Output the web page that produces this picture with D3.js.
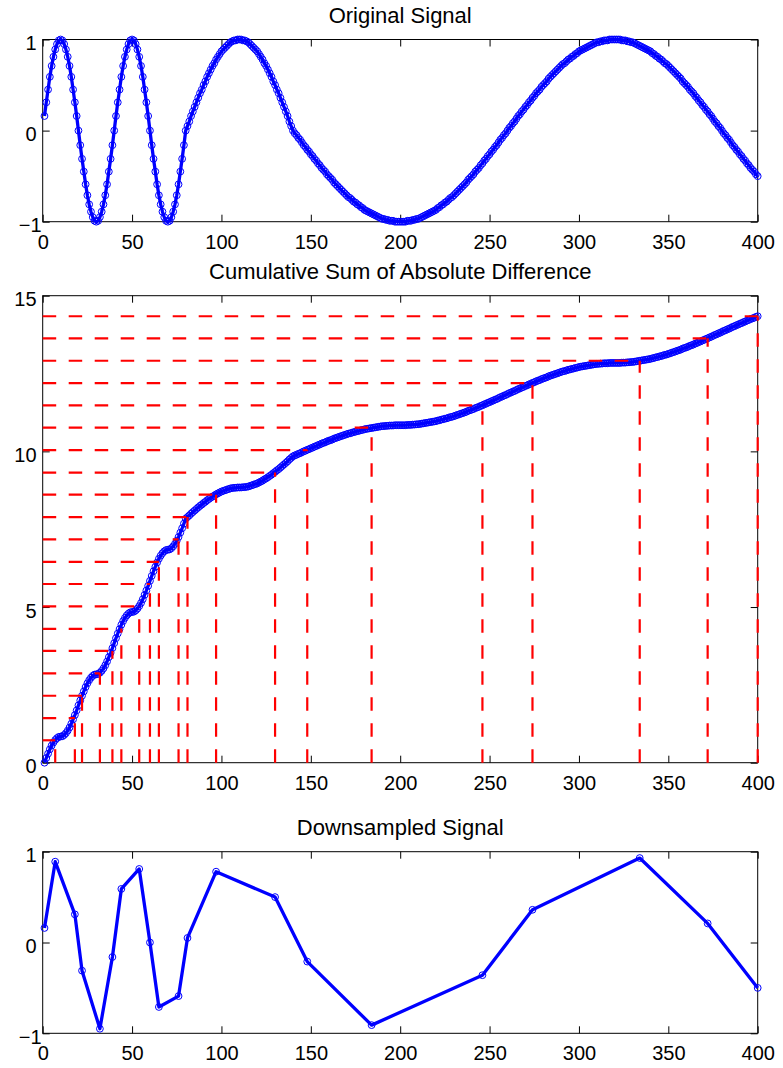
<!DOCTYPE html>
<html lang="en">
<head>
    <meta charset="utf-8">
    <script src="https://d3js.org/d3.v7.min.js"></script>
    <style>
        body { margin: 0; background: #fff; }
    </style>
</head>
<body>
<div id="chart"></div>
<script>
    // original signal, one value per sample (x = 1..400)
    const signal = [
        .16,.31,.45,.59,.71,.81,.89,.95,.99,1,.99,.95,.89,.81,.71,.59,.45,.31,.16,0,
        -.16,-.31,-.45,-.59,-.71,-.81,-.89,-.95,-.99,-1,-.99,-.95,-.89,-.81,-.71,-.59,-.45,-.31,-.16,0,
        .16,.31,.45,.59,.71,.81,.89,.95,.99,1,.99,.95,.89,.81,.71,.59,.45,.31,.16,0,
        -.16,-.31,-.45,-.59,-.71,-.81,-.89,-.95,-.99,-1,-.99,-.95,-.89,-.81,-.71,-.59,-.45,-.31,-.16,0,
        .05,.10,.16,.21,.26,.31,.36,.41,.45,.50,.54,.59,.63,.67,.71,.74,.78,.81,.84,.87,
        .89,.91,.93,.95,.97,.98,.99,.99,1,1,1,.99,.99,.98,.97,.95,.93,.91,.89,.87,
        .84,.81,.78,.74,.71,.67,.63,.59,.54,.50,.45,.41,.36,.31,.26,.21,.16,.10,.05,0,
        -.03,-.05,-.08,-.10,-.13,-.16,-.18,-.21,-.23,-.26,-.28,-.31,-.33,-.36,-.38,-.41,-.43,-.45,-.48,-.50,
        -.52,-.54,-.57,-.59,-.61,-.63,-.65,-.67,-.69,-.71,-.73,-.74,-.76,-.78,-.79,-.81,-.82,-.84,-.85,-.87,
        -.88,-.89,-.90,-.91,-.92,-.93,-.94,-.95,-.96,-.97,-.97,-.98,-.98,-.99,-.99,-.99,-1,-1,-1,-1,
        -1,-1,-1,-.99,-.99,-.99,-.98,-.98,-.97,-.97,-.96,-.95,-.94,-.93,-.92,-.91,-.90,-.89,-.88,-.87,
        -.85,-.84,-.82,-.81,-.79,-.78,-.76,-.74,-.73,-.71,-.69,-.67,-.65,-.63,-.61,-.59,-.57,-.54,-.52,-.50,
        -.48,-.45,-.43,-.41,-.38,-.36,-.33,-.31,-.28,-.26,-.23,-.21,-.18,-.16,-.13,-.10,-.08,-.05,-.03,0,
        .03,.05,.08,.10,.13,.16,.18,.21,.23,.26,.28,.31,.33,.36,.38,.41,.43,.45,.48,.50,
        .52,.54,.57,.59,.61,.63,.65,.67,.69,.71,.73,.74,.76,.78,.79,.81,.82,.84,.85,.87,
        .88,.89,.90,.91,.92,.93,.94,.95,.96,.97,.97,.98,.98,.99,.99,.99,1,1,1,1,
        1,1,1,.99,.99,.99,.98,.98,.97,.97,.96,.95,.94,.93,.92,.91,.90,.89,.88,.87,
        .85,.84,.82,.81,.79,.78,.76,.74,.73,.71,.69,.67,.65,.63,.61,.59,.57,.54,.52,.50,
        .48,.45,.43,.41,.38,.36,.33,.31,.28,.26,.23,.21,.18,.16,.13,.10,.08,.05,.03,0,
        -.03,-.05,-.08,-.10,-.13,-.16,-.18,-.21,-.23,-.26,-.28,-.31,-.33,-.36,-.38,-.41,-.43,-.45,-.48,-.50
    ]

    // threshold levels (red dashed lines) and the samples where the sum crosses them
    const levels = [0.72,1.43,2.15,2.87,3.59,4.30,5.02,5.74,6.45,7.17,7.89,8.61,9.32,10.04,10.76,11.48,12.19,12.91,13.63,14.34]
    const crossX = [7,18,22,32,39,44,54,60,65,76,81,97,130,148,184,246,274,334,372,400]

    // downsampled signal
    const downX = [1,7,18,22,32,39,44,54,60,65,76,81,97,130,148,184,246,274,334,372,400]
    const downY = [.16,.89,.31,-.31,-.95,-.16,.59,.81,0,-.71,-.59,.05,.78,.50,-.21,-.91,-.36,.36,.93,.21,-.50]

    const xTicks = [0,50,100,150,200,250,300,350,400]
    const yTicksSignal = [-1,0,1]
    const yTicksSum = [0,5,10,15]

    const width = 783
    const height = 1068
    const left = 42.7
    const right = 757.7
    const blue = "#0000ff"
    const red = "#ff0000"
    const font = "'Liberation Sans', Arial, Helvetica, sans-serif"

    const svg = d3.select("#chart").append("svg")
        .attr("width", width)
        .attr("height", height)

    const xIdx = d3.range(1, signal.length + 1)
    const cumAbs = Array.from(d3.cumsum(signal, (d, i) => i ? Math.abs(d - signal[i - 1]) : 0))

    function panel(top, bottom, yDomain, yTicks, title) {
        const x = d3.scaleLinear().domain([0, 400]).range([left, right])
        const y = d3.scaleLinear().domain(yDomain).range([bottom, top])
        const g = svg.append("g")
        const fmt = d3.format("d")

        const bx = g.append("g")
            .attr("transform", "translate(0," + bottom + ")")
            .call(d3.axisBottom(x).tickValues(xTicks).tickSizeInner(-7).tickSizeOuter(0).tickPadding(12.8).tickFormat(fmt))
        const tx = g.append("g")
            .attr("transform", "translate(0," + top + ")")
            .call(d3.axisTop(x).tickValues(xTicks).tickSizeInner(-7).tickSizeOuter(0).tickFormat(""))
        const ly = g.append("g")
            .attr("transform", "translate(" + left + ",0)")
            .call(d3.axisLeft(y).tickValues(yTicks).tickSizeInner(-7).tickSizeOuter(0).tickPadding(6.2).tickFormat(fmt))
        const ry = g.append("g")
            .attr("transform", "translate(" + right + ",0)")
            .call(d3.axisRight(y).tickValues(yTicks).tickSizeInner(-7).tickSizeOuter(0).tickFormat(""))

        for (const a of [bx, tx, ly, ry]) {
            a.select(".domain").remove()
            a.attr("font-size", 20).attr("font-family", font).attr("color", "#000")
            a.selectAll("line").attr("stroke-width", 1)
        }
        ly.selectAll("text").attr("dy", "0.5em").attr("dx", d => d < 0 ? 5 : 0)

        g.append("rect")
            .attr("x", left)
            .attr("y", top)
            .attr("width", right - left)
            .attr("height", bottom - top)
            .attr("fill", "none")
            .attr("stroke", "#000")
            .attr("stroke-width", 1)

        g.append("text")
            .attr("x", (left + right) / 2)
            .attr("y", top - 17)
            .attr("text-anchor", "middle")
            .attr("font-family", font)
            .attr("font-size", 22)
            .text(title)

        return {g, x, y}
    }

    function drawSeries(p, xs, ys) {
        const line = d3.line().x((d, i) => p.x(xs[i])).y(d => p.y(d))
        p.g.append("path")
            .datum(ys)
            .attr("fill", "none")
            .attr("stroke", blue)
            .attr("stroke-width", 3.3)
            .attr("stroke-linejoin", "round")
            .attr("d", line)
        p.g.append("g").selectAll("circle")
            .data(ys)
            .join("circle")
            .attr("cx", (d, i) => p.x(xs[i]))
            .attr("cy", d => p.y(d))
            .attr("r", 3.4)
            .attr("fill", "none")
            .attr("stroke", blue)
            .attr("stroke-width", 1)
    }

    // Original signal
    const p1 = panel(39.5, 221.7, [-1, 1], yTicksSignal, "Original Signal")
    drawSeries(p1, xIdx, signal)

    // Cumulative sum of absolute difference
    const p2 = panel(295.7, 762.7, [0, 15], yTicksSum, "Cumulative Sum of Absolute Difference")
    drawSeries(p2, xIdx, cumAbs)

    p2.g.append("g").selectAll("line")
        .data(levels)
        .join("line")
        .attr("x1", p2.x(0))
        .attr("x2", (d, i) => p2.x(crossX[i]))
        .attr("y1", d => p2.y(d))
        .attr("y2", d => p2.y(d))
        .attr("stroke", red)
        .attr("stroke-width", 2.2)
        .attr("stroke-dasharray", "13.5,12.5")
    p2.g.append("g").selectAll("line")
        .data(levels)
        .join("line")
        .attr("x1", (d, i) => p2.x(crossX[i]))
        .attr("x2", (d, i) => p2.x(crossX[i]))
        .attr("y1", p2.y(0))
        .attr("y2", d => p2.y(d))
        .attr("stroke", red)
        .attr("stroke-width", 2.2)
        .attr("stroke-dasharray", "13.5,12.5")

    // Downsampled signal
    const p3 = panel(851.7, 1033.3, [-1, 1], yTicksSignal, "Downsampled Signal")
    drawSeries(p3, downX, downY)
</script>
</body>
</html>
